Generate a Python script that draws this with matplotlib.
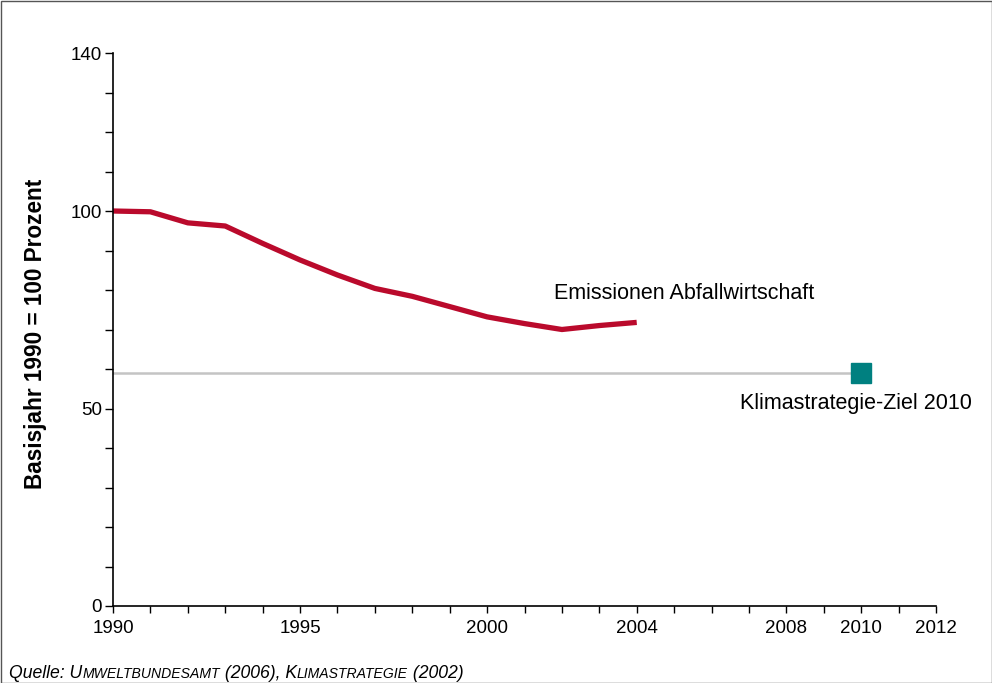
import numpy as np
import matplotlib.pyplot as plt
from matplotlib.patches import Rectangle

plt.rcParams['font.family'] = ['Liberation Sans', 'DejaVu Sans']

years = [1990, 1991, 1992, 1993, 1994, 1995, 1996, 1997, 1998, 1999, 2000, 2001, 2002, 2003, 2004]
emissionen = [100, 99.8, 97.0, 96.2, 91.8, 87.6, 83.8, 80.4, 78.4, 75.8, 73.2, 71.5, 70.0, 71.0, 71.8]
ziel_jahr = 2010
ziel_wert = 59
xlabels = [1990, 1995, 2000, 2004, 2008, 2010, 2012]
ylabels = [0, 50, 100, 140]

fig = plt.figure(figsize=(9.92, 6.83), dpi=100)
ax = fig.add_axes([113/992, 1-606/683, (936-113)/992, (606-53)/683])

# target line and marker
ax.plot([1990, ziel_jahr], [ziel_wert, ziel_wert], color='#c4c4c4', lw=1.8, zorder=1)
ax.plot([ziel_jahr], [ziel_wert], marker='s', ms=14.5, color='#008080', mec='#008080', zorder=3, clip_on=False)

ax.plot(years, emissionen, color='#ba0a2c', lw=3.8, solid_capstyle='butt', zorder=2)

ax.text(2001.8, 79, 'Emissionen Abfallwirtschaft', fontsize=15.5, ha='left', va='center')
ax.text(2006.75, 51.3, 'Klimastrategie-Ziel 2010', fontsize=15.5, ha='left', va='center')

ax.set_xlim(1990, 2012)
ax.set_ylim(0, 140)
ax.set_xticks(range(1990, 2013))
ax.set_xticklabels([str(y) if y in xlabels else '' for y in range(1990, 2013)], fontsize=13.5)
ax.set_yticks(range(0, 141, 10))
ax.set_yticklabels([str(v) if v in ylabels else '' for v in range(0, 141, 10)], fontsize=13.5)
ax.tick_params(axis='x', direction='out', length=5, width=1, pad=5)
ax.tick_params(axis='y', direction='out', length=6, width=1, pad=2)
for s in ['top', 'right']:
    ax.spines[s].set_visible(False)
for s in ['left', 'bottom']:
    ax.spines[s].set_linewidth(1.2)

fig.text(36/992, 1-334/683, 'Basisjahr 1990 = 100 Prozent', rotation=90, fontsize=16.3,
         fontweight='bold', ha='center', va='center')

# source line with small caps
fig.canvas.draw()
r = fig.canvas.get_renderer()
parts = [('Quelle: U', 12.7), ('MWELTBUNDESAMT', 10.1), (' (2006), K', 12.7), ('LIMASTRATEGIE', 10.1), (' (2002)', 12.7)]
x = 9
for s, fs in parts:
    t = fig.text(x/992, 1-678/683, s, fontsize=fs, style='italic', ha='left', va='baseline')
    bb = t.get_window_extent(renderer=r)
    x += bb.width

# frame around the figure
fig.patches.append(Rectangle((0.5/992, 0.5/683), 1-1/992, 1-1/683, transform=fig.transFigure,
                             fill=False, edgecolor='#555555', lw=1))

fig.savefig('out.png', dpi=100)
